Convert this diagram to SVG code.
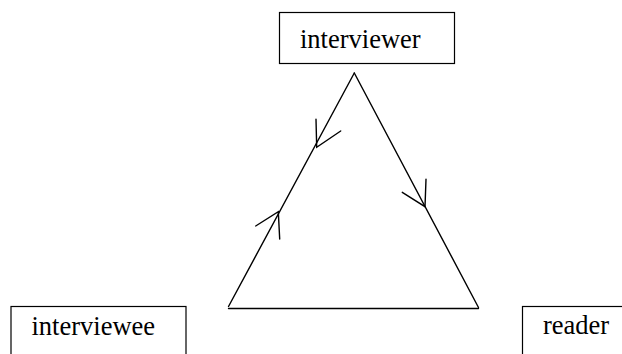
<svg xmlns="http://www.w3.org/2000/svg" width="622" height="354" viewBox="0 0 622 354">
<style>
.box{fill:#fff;stroke:#000;stroke-width:1.2}
.lbl{font-family:"Liberation Serif","Times New Roman",serif;font-size:26.5px;fill:#000}
.ln{fill:none;stroke:#000;stroke-width:1.4;stroke-linecap:round}
</style>
<rect width="622" height="354" fill="#fff"/>
<g id="interviewer">
<rect class="box" x="279.5" y="12.5" width="175" height="51"/>
<text class="lbl" x="300" y="48">interviewer</text>
</g>
<g id="interviewee">
<rect class="box" x="11" y="306.5" width="175" height="60"/>
<text class="lbl" x="31.5" y="335">interviewee</text>
</g>
<g id="reader">
<rect class="box" x="522.5" y="306.5" width="120" height="60"/>
<text class="lbl" x="543" y="334">reader</text>
</g>
<g id="connectors">
<path class="ln" d="M354.3,73 L228.5,306.5"/>
<path class="ln" d="M354.3,73 L478.5,307.5"/>
<path class="ln" d="M228.5,308.5 L478.5,308.5"/>
<path class="ln" d="M316,119.3 L316.7,147.3 L340.7,131"/>
<path class="ln" d="M255.7,226 L278.3,211.7 L279.7,239"/>
<path class="ln" d="M426,179.3 L425,206.7 L402.3,192.3"/>
</g>
</svg>
